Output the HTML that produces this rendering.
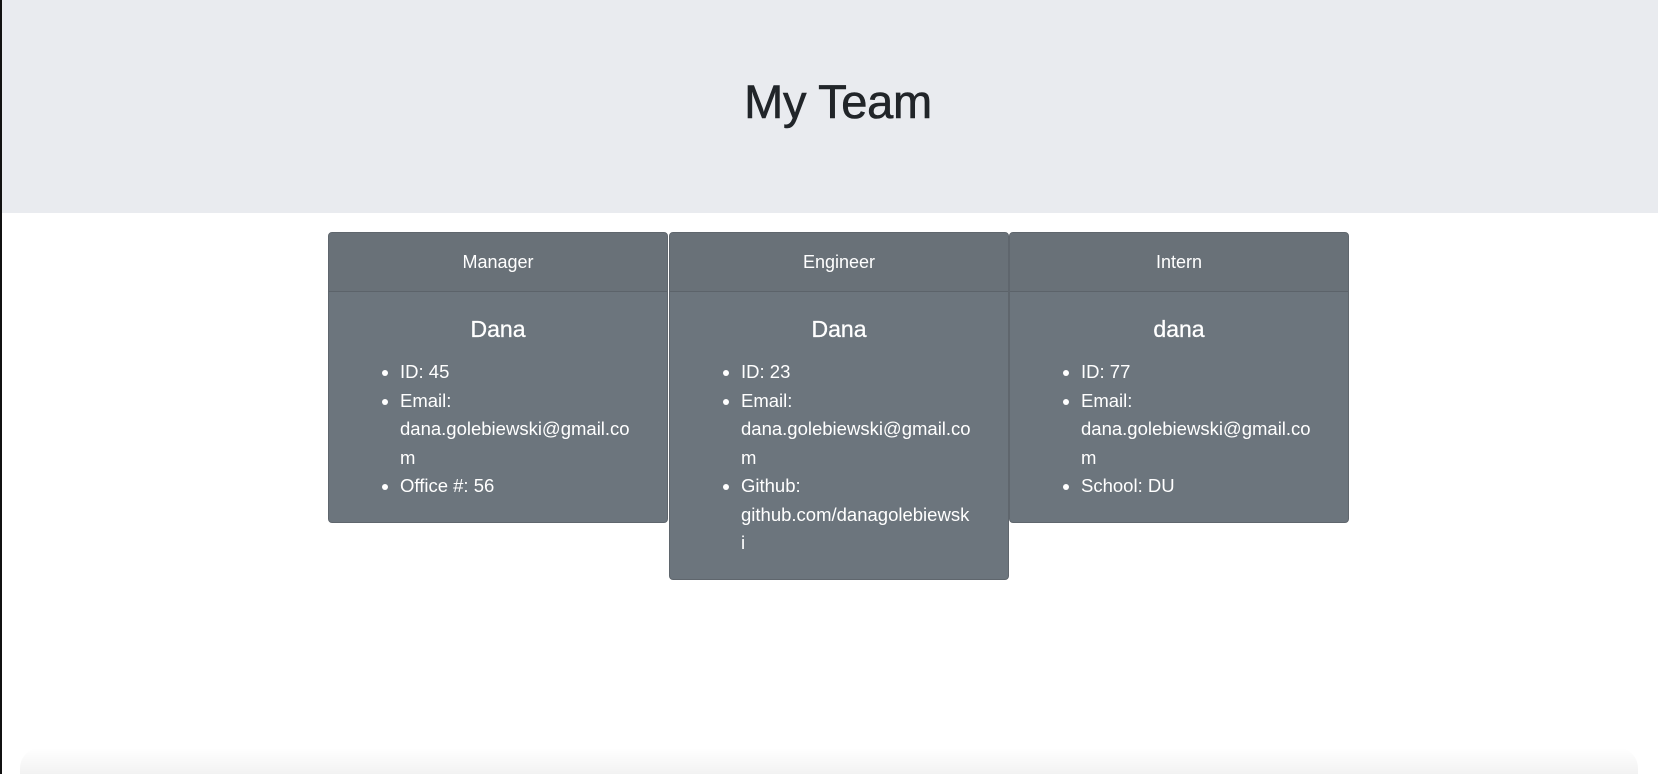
<!DOCTYPE html>
<html><head><meta charset="utf-8"><style>
html,body{margin:0;padding:0;width:1658px;height:774px;overflow:hidden;background:#fff;font-family:"Liberation Sans",sans-serif;}
.lb{position:absolute;left:0;top:0;width:2px;height:774px;background:#111;z-index:5;}
.hdr{position:absolute;left:2px;top:0;width:1656px;height:213px;background:#e9ebef;}
.hdr h1{margin:0;position:absolute;left:16px;right:0;top:74px;text-align:center;font-size:47px;font-weight:normal;color:#212529;letter-spacing:-0.3px;-webkit-text-stroke:0.6px #212529;}
.card{position:absolute;top:232px;width:340px;background:#6c757d;border:1px solid #5f666d;border-radius:4px;color:#fff;box-sizing:border-box;}
.ch{height:58px;line-height:58px;text-align:center;font-size:18px;background:#697178;border-bottom:1px solid #5c636a;border-radius:4px 4px 0 0;}
.nm{text-align:center;font-size:23px;margin-top:23px;line-height:28px;-webkit-text-stroke:0.3px #fff;}
ul{margin:15px 0 0 0;padding-left:71px;font-size:18.5px;line-height:28.5px;white-space:nowrap;}
.shadow{position:absolute;left:20px;right:20px;top:748px;height:26px;background:linear-gradient(to bottom,rgba(0,0,0,0),rgba(0,0,0,0.05));border-radius:20px 20px 0 0;}
</style></head><body>
<div class="lb"></div>
<div class="hdr"><h1>My Team</h1></div>
<div class="card" style="left:328px;height:291px;">
<div class="ch">Manager</div>
<div class="nm">Dana</div>
<ul><li>ID: 45</li><li>Email:<br>dana.golebiewski@gmail.co<br>m</li><li>Office #: 56</li></ul>
</div>
<div class="card" style="left:669px;height:348px;">
<div class="ch">Engineer</div>
<div class="nm">Dana</div>
<ul><li>ID: 23</li><li>Email:<br>dana.golebiewski@gmail.co<br>m</li><li>Github:<br>github.com/danagolebiewsk<br>i</li></ul>
</div>
<div class="card" style="left:1009px;height:291px;">
<div class="ch">Intern</div>
<div class="nm">dana</div>
<ul><li>ID: 77</li><li>Email:<br>dana.golebiewski@gmail.co<br>m</li><li>School: DU</li></ul>
</div>
<div class="shadow"></div>
</body></html>
